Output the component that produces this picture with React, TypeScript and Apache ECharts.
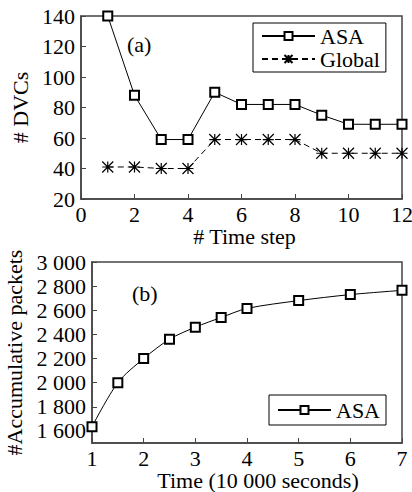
import React, { useEffect, useRef } from 'react';
import * as echarts from 'echarts';

const timeSteps = [1, 2, 3, 4, 5, 6, 7, 8, 9, 10, 11, 12];
const asaDVCs = [140, 88, 59, 59, 90, 82, 82, 82, 75, 69, 69, 69];
const globalDVCs = [41, 41, 40, 40, 59, 59, 59, 59, 50, 50, 50, 50];

const timeX = [1, 1.5, 2, 2.5, 3, 3.5, 4, 5, 6, 7];
const asaPackets = [1635, 2000, 2200, 2360, 2460, 2540, 2615, 2680, 2730, 2765];
const packetTicks = [1600, 1800, 2000, 2200, 2400, 2600, 2800, 3000];

const FONT = '"Liberation Serif", "Times New Roman", serif';
const AXIS_COLOR = '#444';
const starPath = 'path://M0,0L10,10M0,10L10,0M5,0L5,10M0,5L10,5';

function fmtThousands(v: number): string {
  const s = String(Math.round(v));
  if (s.length <= 3) return s;
  return s.slice(0, s.length - 3) + ' ' + s.slice(s.length - 3);
}

export default function App() {
  const ref = useRef<HTMLDivElement>(null);
  useEffect(() => {
    if (!ref.current) return;
    const chart = echarts.init(ref.current, null, { renderer: 'svg' });
    const axisLine = { show: true, lineStyle: { color: AXIS_COLOR, width: 1.5 } };
    const axisTick = { show: true, inside: true, length: 5, lineStyle: { color: AXIS_COLOR, width: 1 } };
    const labelStyle = { color: '#000', fontFamily: FONT, fontSize: 22 };
    const nameStyle = { color: '#000', fontFamily: FONT, fontSize: 22 };
    chart.setOption({
      animation: false,
      backgroundColor: '#fff',
      grid: [
        { left: 81, top: 16, width: 321, height: 183, show: true, borderColor: AXIS_COLOR, borderWidth: 1.5, containLabel: false, outerBoundsMode: 'none' },
        { left: 92, top: 262, width: 310, height: 181, show: true, borderColor: AXIS_COLOR, borderWidth: 1.5, containLabel: false, outerBoundsMode: 'none' },
      ],
      xAxis: [
        {
          type: 'value', gridIndex: 0, min: 0, max: 12, interval: 2,
          axisLine, axisTick, splitLine: { show: false },
          axisLabel: { ...labelStyle, margin: 4 },
          name: '# Time step', nameLocation: 'middle', nameGap: 24, nameTextStyle: { ...nameStyle, padding: [0, 0, 0, 6] },
        },
        {
          type: 'value', gridIndex: 1, min: 1, max: 7, interval: 1,
          axisLine, axisTick, splitLine: { show: false },
          axisLabel: { ...labelStyle, margin: 4 },
          name: 'Time (10 000 seconds)', nameLocation: 'middle', nameGap: 25, nameTextStyle: { ...nameStyle, padding: [0, 0, 0, 22] },
        },
      ],
      yAxis: [
        {
          type: 'value', gridIndex: 0, min: 20, max: 140, interval: 20,
          axisLine, axisTick, splitLine: { show: false },
          axisLabel: { ...labelStyle, margin: 6 },
          name: '# DVCs', nameLocation: 'middle', nameGap: 46, nameTextStyle: nameStyle,
        },
        {
          type: 'value', gridIndex: 1, min: 1500, max: 3000,
          axisLine,
          axisTick: { ...axisTick, customValues: packetTicks },
          splitLine: { show: false },
          axisLabel: { ...labelStyle, margin: 6, customValues: packetTicks, formatter: (v: number) => fmtThousands(v) },
          name: '#Accumulative packets', nameLocation: 'middle', nameGap: 57, nameTextStyle: nameStyle,
        },
      ],
      legend: [
        {
          data: ['ASA', 'Global'], orient: 'vertical', left: 253, top: 23,
          itemWidth: 53, itemHeight: 10, itemGap: 1,
          padding: [2, 6, 2, 8], borderColor: '#000', borderWidth: 1,
          textStyle: { ...nameStyle },
        },
        {
          data: ['ASA'], orient: 'vertical', left: 269, top: 395,
          itemWidth: 53, itemHeight: 10, itemGap: 2,
          padding: [4, 6, 4, 8], borderColor: '#000', borderWidth: 1,
          textStyle: { ...nameStyle },
        },
      ],
      graphic: [
        { type: 'text', left: 127, top: 33, style: { text: '(a)', font: `22px ${FONT}`, fill: '#000' } },
        { type: 'text', left: 132, top: 282, style: { text: '(b)', font: `22px ${FONT}`, fill: '#000' } },
      ],
      series: [
        {
          name: 'ASA', type: 'line', xAxisIndex: 0, yAxisIndex: 0,
          data: timeSteps.map((x, i) => [x, asaDVCs[i]]),
          symbol: 'emptyRect', symbolSize: 9,
          lineStyle: { color: '#000', width: 1 },
          itemStyle: { color: '#000', borderColor: '#000', borderWidth: 1 },
        },
        {
          name: 'Global', type: 'line', xAxisIndex: 0, yAxisIndex: 0,
          data: timeSteps.map((x, i) => [x, globalDVCs[i]]),
          symbol: starPath, symbolSize: 11,
          lineStyle: { color: '#000', width: 1, type: [6, 4] },
          itemStyle: { color: 'none', borderColor: '#000', borderWidth: 1.2 },
        },
        {
          name: 'ASA', type: 'line', xAxisIndex: 1, yAxisIndex: 1,
          data: timeX.map((x, i) => [x, asaPackets[i]]),
          symbol: 'emptyRect', symbolSize: 9, smooth: 0.3,
          lineStyle: { color: '#000', width: 1 },
          itemStyle: { color: '#000', borderColor: '#000', borderWidth: 1 },
        },
      ],
    });
    return () => chart.dispose();
  }, []);
  return <div ref={ref} style={{ position: 'absolute', left: 0, top: 0, width: 412, height: 492 }} />;
}
